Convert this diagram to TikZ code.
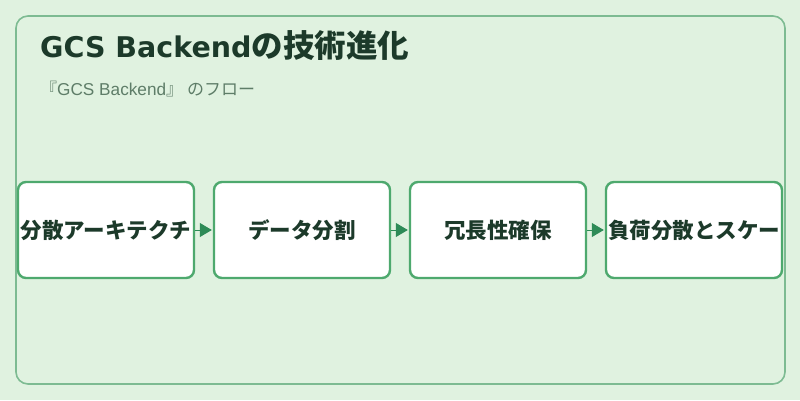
\documentclass[tikz,border=0pt]{standalone}
\usepackage{fontspec}
\setmainfont{Noto Sans CJK JP}
\newfontfamily\cjkf{Noto Sans CJK JP}
\newfontfamily\latb{DejaVu Sans}
\newfontfamily\latr{Liberation Sans}
\usetikzlibrary{arrows.meta}
\definecolor{bgc}{HTML}{E0F2E0}
\definecolor{frame}{HTML}{7DBB92}
\definecolor{boxb}{HTML}{4EA96E}
\definecolor{arr}{HTML}{2E8B57}
\definecolor{txt}{HTML}{1C3A2A}
\definecolor{sub}{HTML}{5E7D68}
\tikzset{
  stepbox/.style={draw=boxb, line width=2.4pt, fill=white, rounded corners=8pt,
    minimum width=176pt, minimum height=96pt, inner sep=0pt,
    font=\fontsize{21.5}{24}\selectfont\bfseries\cjkf, text=txt},
  flow/.style={draw=arr, line width=1pt, -{Triangle[length=12pt,width=14pt]}, fill=arr, shorten >=1pt}
}
\begin{document}
\begin{tikzpicture}[x=1pt,y=-1pt]
\fill[bgc] (0,0) rectangle (800,400);
\useasboundingbox (0,0) rectangle (800,400);
\draw[frame, line width=1.6pt, rounded corners=12pt] (16,16) rectangle (785,384);
\node[anchor=base west, text=txt, font=\bfseries, inner sep=0pt] (title) at (40,57) {{\latb\fontsize{28.5}{34}\selectfont GCS Backend}{\cjkf\fontsize{31.5}{34}\selectfont の技術進化}};
\node[anchor=base west, text=sub, font=\fontsize{17}{20}\selectfont, inner sep=0pt] (subtitle) at (40,95) {\cjkf 『{\latr\fontsize{17.2}{20}\selectfont GCS Backend}』\kern4pt のフロー};
\node[stepbox] (b1) at (106,230) {分散アーキテクチ};
\node[stepbox] (b2) at (302,230) {データ分割};
\node[stepbox] (b3) at (498,230) {冗長性確保};
\node[stepbox] (b4) at (694,230) {負荷分散とスケー};
\draw[flow] (b1) -- (b2);
\draw[flow] (b2) -- (b3);
\draw[flow] (b3) -- (b4);
\end{tikzpicture}
\end{document}
